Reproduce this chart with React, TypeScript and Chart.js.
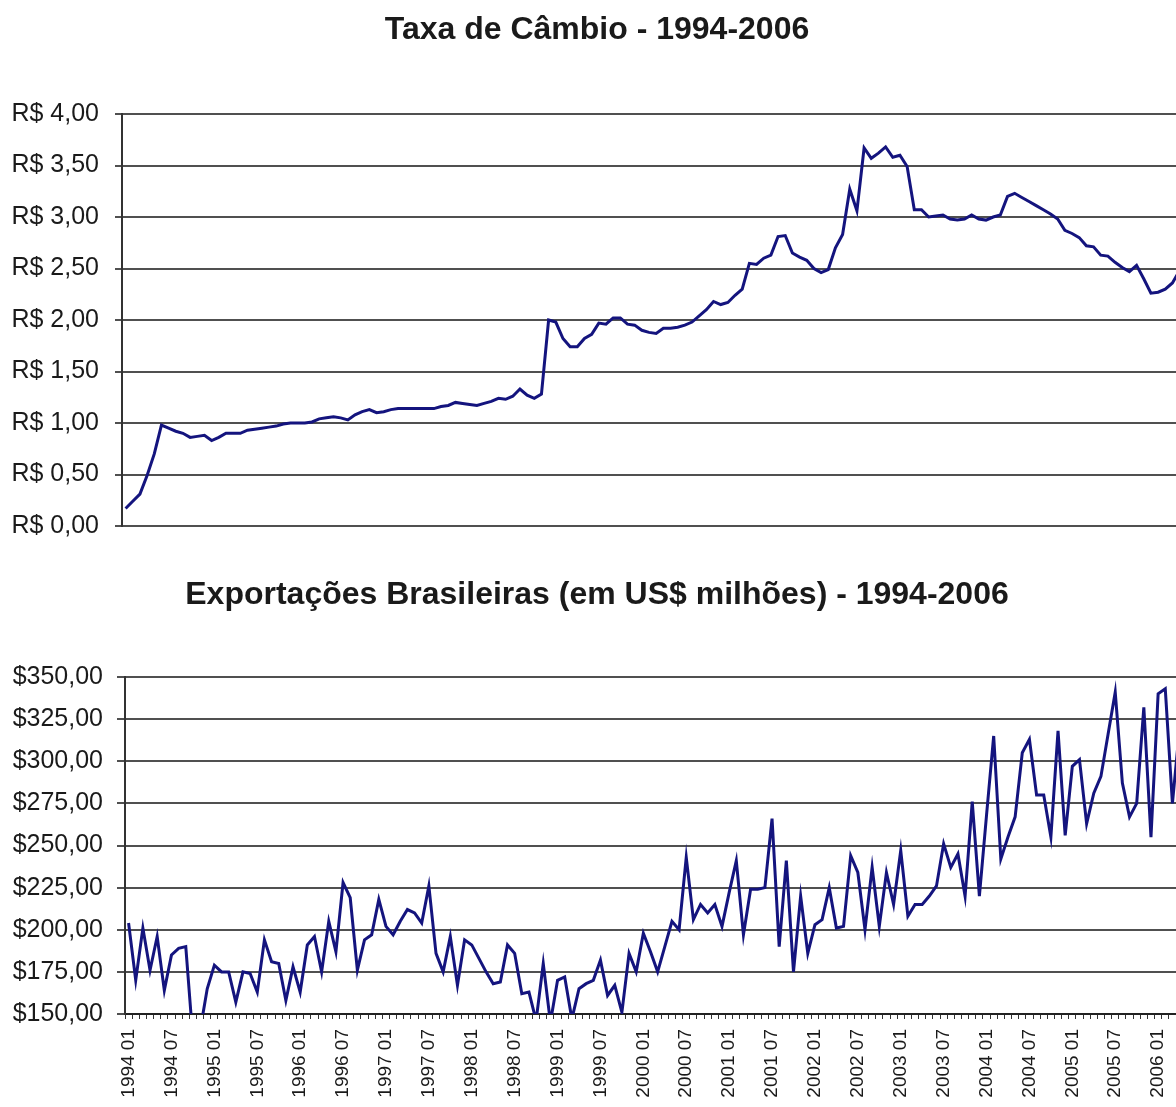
import React, { useEffect, useRef } from 'react';
import { Chart, registerables } from 'chart.js';

Chart.register(...registerables);

// ---------- data ----------
const years = [1994, 1995, 1996, 1997, 1998, 1999, 2000, 2001, 2002, 2003, 2004, 2005, 2006];
const months = ['01', '02', '03', '04', '05', '06', '07', '08', '09', '10', '11', '12'];
const categories: string[] = years.flatMap((y) => months.map((m) => `${y} ${m}`)).slice(0, 148);
const visibleMonths = 147; // 1994 01 .. 2006 03 fully visible

const topTitle = 'Taxa de Câmbio - 1994-2006';
const bottomTitle = 'Exportações Brasileiras (em US$ milhões) - 1994-2006';

// R$ per US$ (monthly)
const exchangeRate = [
  0.17, 0.24, 0.31, 0.49, 0.70, 0.98, 0.95, 0.92, 0.90, 0.86, 0.87, 0.88,
  0.83, 0.86, 0.90, 0.90, 0.90, 0.93, 0.94, 0.95, 0.96, 0.97, 0.99, 1.00,
  1.00, 1.00, 1.01, 1.04, 1.05, 1.06, 1.05, 1.03, 1.08, 1.11, 1.13, 1.10,
  1.11, 1.13, 1.14, 1.14, 1.14, 1.14, 1.14, 1.14, 1.16, 1.17, 1.20, 1.19,
  1.18, 1.17, 1.19, 1.21, 1.24, 1.23, 1.26, 1.33, 1.27, 1.24, 1.28, 2.00,
  1.98, 1.82, 1.74, 1.74, 1.82, 1.86, 1.97, 1.96, 2.02, 2.02, 1.96, 1.95,
  1.90, 1.88, 1.87, 1.92, 1.92, 1.93, 1.95, 1.98, 2.04, 2.10, 2.18, 2.15,
  2.17, 2.24, 2.30, 2.55, 2.54, 2.60, 2.63, 2.81, 2.82, 2.65, 2.61, 2.58,
  2.50, 2.46, 2.49, 2.70, 2.83, 3.27, 3.06, 3.67, 3.57, 3.62, 3.68, 3.58,
  3.60, 3.49, 3.07, 3.07, 3.00, 3.01, 3.02, 2.98, 2.97, 2.98, 3.02, 2.98,
  2.97, 3.00, 3.02, 3.20, 3.23, 3.19, 3.15, 3.11, 3.07, 3.03, 2.98, 2.87,
  2.84, 2.80, 2.72, 2.71, 2.63, 2.62, 2.56, 2.51, 2.47, 2.53, 2.40, 2.26,
  2.27, 2.30, 2.36, 2.48,
];

// Exports, US$ millions (monthly)
const exportValues = [
  204, 170, 201, 176, 196, 164, 185, 189, 190, 135, 140, 165,
  179, 175, 175, 157, 175, 174, 163, 194, 181, 180, 158, 178,
  163, 191, 196, 175, 205, 187, 228, 219, 176, 194, 197, 218,
  202, 197, 205, 212, 210, 204, 226, 186, 175, 196, 167, 194,
  191, 183, 175, 168, 169, 191, 186, 162, 163, 146, 180, 145,
  170, 172, 147, 165, 168, 170, 182, 161, 167, 151, 186, 175,
  198, 187, 175, 190, 205, 200, 243, 206, 215, 210, 215, 202,
  222, 241, 197, 224, 224, 225, 266, 190, 241, 175, 220, 186,
  203, 206, 225, 201, 202, 244, 234, 200, 237, 202, 234, 215,
  247, 208, 215, 215, 220, 226, 251, 237, 245, 220, 276, 220,
  268, 315, 242, 255, 267, 305, 313, 280, 280, 255, 318, 256,
  297, 301, 263, 281, 291, 316, 341, 287, 267, 275, 332, 255,
  340, 343, 275, 320,
];

// ---------- styles ----------
const FONT = '"Liberation Sans", Arial, Helvetica, sans-serif';
const LINE_COLOR = '#14147e';
const GRID_COLOR = '#505050';
const TEXT_COLOR = '#1a1a1a';

const fmt = (v: number) => Number(v).toFixed(2).replace('.', ',');

const titlePlugin = {
  id: 'customTitle',
  afterDraw(chart: any, _args: any, opts: any) {
    const { ctx } = chart;
    ctx.save();
    ctx.font = `bold ${opts.size}px ${FONT}`;
    ctx.fillStyle = TEXT_COLOR;
    ctx.textAlign = 'center';
    ctx.textBaseline = 'middle';
    ctx.fillText(opts.text, opts.x, opts.y);
    ctx.restore();
  },
};

const toPoints = (arr: number[]) => arr.map((y, x) => ({ x, y }));

const monthTicks = (s: any) => {
  s.ticks = categories.slice(0, visibleMonths).map((_, i) => ({ value: i }));
};

function makeTopConfig(): any {
  return {
    type: 'line',
    data: {
      datasets: [
        {
          data: toPoints(exchangeRate),
          borderColor: LINE_COLOR,
          borderWidth: 3,
          pointRadius: 0,
          tension: 0,
          fill: false,
        },
      ],
    },
    plugins: [titlePlugin],
    options: {
      responsive: false,
      animation: false,
      events: [],
      layout: { padding: { top: 114, bottom: 19, left: 0, right: 0 } },
      plugins: {
        legend: { display: false },
        tooltip: { enabled: false },
        title: { display: false },
        customTitle: { text: topTitle, x: 597, y: 30, size: 32 },
      },
      scales: {
        x: {
          type: 'linear',
          display: false,
          min: -0.5,
          max: visibleMonths - 0.5,
          afterBuildTicks: monthTicks,
        },
        y: {
          min: 0,
          max: 4,
          afterFit: (s: any) => {
            s.width = 122;
            s.paddingTop = 0;
            s.paddingBottom = 0;
          },
          ticks: {
            stepSize: 0.5,
            padding: 16,
            color: TEXT_COLOR,
            font: { family: FONT, size: 25 },
            callback: (v: any) => 'R$ ' + fmt(v),
          },
          grid: { color: GRID_COLOR, lineWidth: 2, tickLength: 7, drawTicks: true },
          border: { display: true, color: '#333333', width: 2 },
        },
      },
    },
  };
}

function makeBottomConfig(): any {
  return {
    type: 'line',
    data: {
      datasets: [
        {
          data: toPoints(exportValues),
          borderColor: LINE_COLOR,
          borderWidth: 3,
          pointRadius: 0,
          tension: 0,
          fill: false,
        },
      ],
    },
    plugins: [titlePlugin],
    options: {
      responsive: false,
      animation: false,
      events: [],
      layout: { padding: { top: 117, bottom: 0, left: 0, right: 0 } },
      plugins: {
        legend: { display: false },
        tooltip: { enabled: false },
        title: { display: false },
        customTitle: { text: bottomTitle, x: 597, y: 35, size: 32 },
      },
      scales: {
        x: {
          type: 'linear',
          min: -0.5,
          max: visibleMonths - 0.5,
          afterBuildTicks: monthTicks,
          afterFit: (s: any) => {
            s.height = 93;
            s.paddingLeft = 0;
            s.paddingRight = 0;
          },
          grid: {
            display: true,
            drawOnChartArea: false,
            drawTicks: true,
            tickLength: 5,
            offset: true,
            color: '#333333',
            lineWidth: 1,
          },
          border: { display: true, color: '#222222', width: 2 },
          ticks: {
            autoSkip: false,
            minRotation: 90,
            maxRotation: 90,
            padding: 10,
            color: TEXT_COLOR,
            font: { family: FONT, size: 19 },
            callback: (v: any) => {
              const l = categories[Math.round(v as number)] || '';
              return l.endsWith(' 01') || l.endsWith(' 07') ? l : '';
            },
          },
        },
        y: {
          min: 150,
          max: 350,
          afterFit: (s: any) => {
            s.width = 125;
            s.paddingTop = 0;
            s.paddingBottom = 0;
          },
          ticks: {
            stepSize: 25,
            padding: 14,
            color: TEXT_COLOR,
            font: { family: FONT, size: 25 },
            callback: (v: any) => '$' + fmt(v),
          },
          grid: { color: GRID_COLOR, lineWidth: 2, tickLength: 8, drawTicks: true },
          border: { display: true, color: '#333333', width: 2 },
        },
      },
    },
  };
}

export default function App() {
  const topRef = useRef<HTMLCanvasElement | null>(null);
  const bottomRef = useRef<HTMLCanvasElement | null>(null);

  useEffect(() => {
    const c1 = new Chart(topRef.current as HTMLCanvasElement, makeTopConfig());
    const c2 = new Chart(bottomRef.current as HTMLCanvasElement, makeBottomConfig());
    return () => {
      c1.destroy();
      c2.destroy();
    };
  }, []);

  return (
    <div
      style={{
        position: 'absolute',
        left: 0,
        top: 0,
        width: 1176,
        height: 1107,
        overflow: 'hidden',
        background: '#ffffff',
      }}
    >
      <div style={{ position: 'absolute', left: 0, top: 0, width: 1176, height: 545 }}>
        <canvas ref={topRef} width={1176} height={545} style={{ display: 'block' }} />
      </div>
      <div style={{ position: 'absolute', left: 0, top: 560, width: 1176, height: 547 }}>
        <canvas ref={bottomRef} width={1176} height={547} style={{ display: 'block' }} />
      </div>
    </div>
  );
}
